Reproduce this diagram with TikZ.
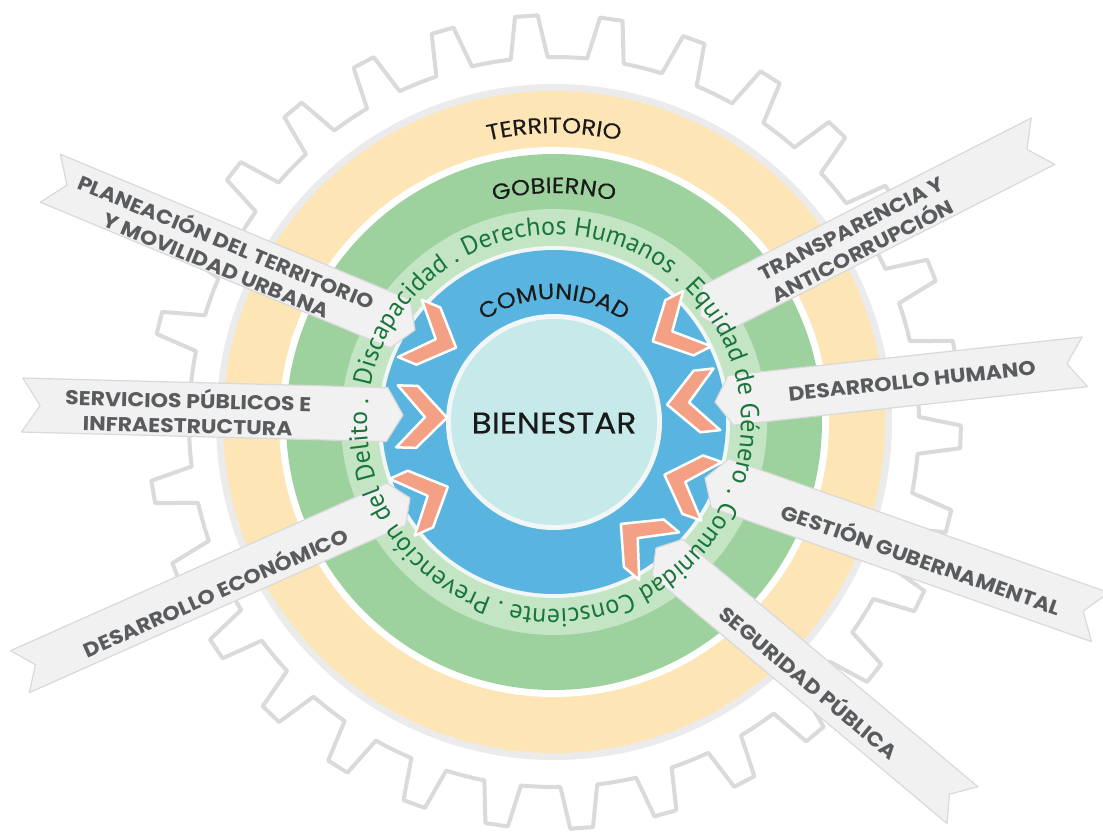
\documentclass[tikz,border=0pt]{standalone}
\usepackage{fontspec}
\setmainfont{Poppins}
\newfontfamily\ringfont{PT Sans}
\newfontfamily\labfont{Poppins}[FakeStretch=1.1, FakeBold=0.3]
\newfontfamily\banfont{Poppins}[FakeStretch=1.1]
\usetikzlibrary{decorations.text}
\definecolor{yel}{HTML}{FDE5B5}
\definecolor{yelb}{HTML}{EBEBEB}
\definecolor{grn}{HTML}{9DD19D}
\definecolor{lgrn}{HTML}{C3E5C3}
\definecolor{blu}{HTML}{59B5DF}
\definecolor{cyn}{HTML}{C6E9E9}
\definecolor{wbord}{HTML}{F3F6F6}
\definecolor{chev}{HTML}{F4A084}
\definecolor{banf}{HTML}{F1F1F1}
\definecolor{banb}{HTML}{D9D9D9}
\definecolor{bant}{HTML}{595B5E}
\definecolor{ringt}{HTML}{18763B}
\definecolor{gearc}{HTML}{DADADA}
\definecolor{labt}{HTML}{1A1A1A}
\begin{document}
\begin{tikzpicture}[x=1pt,y=1pt,
  banner/.style={fill=banf, draw=banb, line width=1.2pt, line join=round},
  chevron/.style={fill=chev, draw=white, line width=2.5pt, line join=round},
  bantext/.style={text=bant, font=\banfont\bfseries\fontsize{20}{25}\selectfont, align=center, inner sep=0pt},
  gearline/.style={draw=gearc, line width=4pt, line join=round, fill=white},
  arclabel/.style={decorate, decoration={text along path, text align=center, text color=labt}}
]
\useasboundingbox (-554,-409) rectangle (549,422);

% gear
\draw[gearline] (7:365pt) \foreach \k in {0,...,29}{ -- ({9.9+12*\k-1.6}:407pt) -- ({9.9+12*\k+1.6}:407pt) -- ({9.9+12*\k+2.9}:365pt) arc[start angle={9.9+12*\k+2.9}, end angle={9.9+12*\k+9.1}, radius=365pt] } -- cycle;

% rings
\fill[yelb] (0,0) circle[radius=338pt];
\fill[yel] (0,0) circle[radius=331pt];
\fill[white] (0,0) circle[radius=275pt];
\fill[grn] (0,0) circle[radius=268pt];
\fill[lgrn] (0,0) circle[radius=213pt];
\fill[wbord] (0,0) circle[radius=176pt];
\fill[blu] (0,0) circle[radius=172pt];
\fill[wbord] (0,0) circle[radius=108pt];
\fill[cyn] (0,0) circle[radius=103pt];

% ring labels
\path[arclabel, decoration={text={|\labfont\fontsize{22}{24}\selectfont|TERRITORIO}}] (135:289pt) arc[start angle=135, end angle=45, radius=289pt];
\path[arclabel, decoration={text={|\labfont\fontsize{22}{24}\selectfont|GOBIERNO}}] (135:229pt) arc[start angle=135, end angle=45, radius=229pt];
\path[arclabel, decoration={text={|\labfont\fontsize{22}{24}\selectfont|COMUNIDAD}}] (150:123pt) arc[start angle=150, end angle=30, radius=123pt];

% banners
\begin{scope}[shift={(-139,92)}, rotate=157.4]
\draw[banner] (0,0) -- (16,26) -- (395,26) -- (377,0) -- (395,-26) -- (16,-26) -- cycle;
\end{scope}
\begin{scope}[shift={(-151,7)}, rotate=178.5]
\draw[banner] (0,0) -- (16,27) -- (381,27) -- (363,0) -- (381,-27) -- (16,-27) -- cycle;
\end{scope}
\begin{scope}[shift={(-144,-76)}, rotate=204]
\draw[banner] (0,0) -- (15,23) -- (427,23) -- (410,0) -- (427,-23) -- (15,-23) -- cycle;
\end{scope}
\begin{scope}[shift={(146,106)}, rotate=27]
\draw[banner] (0,0) -- (16,26) -- (385,26) -- (367,0) -- (385,-26) -- (16,-26) -- cycle;
\end{scope}
\begin{scope}[shift={(161,20)}, rotate=6.2]
\draw[banner] (0,0) -- (16,25) -- (372,25) -- (354,0) -- (372,-25) -- (16,-25) -- cycle;
\end{scope}
\begin{scope}[shift={(151,-56)}, rotate=-19.4]
\draw[banner] (0,0) -- (16,26) -- (419,26) -- (401,0) -- (419,-26) -- (16,-26) -- cycle;
\end{scope}
\begin{scope}[shift={(102,-126)}, rotate=-40]
\draw[banner] (0,0) -- (15,24) -- (400,24) -- (383,0) -- (400,-24) -- (15,-24) -- cycle;
\end{scope}

% chevrons
\foreach \cx/\cy/\ca in {-121/84/-22.6, -132/5/-1.5, -129/-75/24, 121/92/207, 138/20/186.2, 134/-61/160.6, 86/-118/140}{
  \begin{scope}[shift={(\cx,\cy)}, rotate=\ca]
  \draw[chevron] (-25,31) -- (-5,31) -- (25,0) -- (-5,-31) -- (-25,-31) -- (3,0) -- cycle;
  \end{scope}
}

% ring text
\path[decorate, decoration={text along path, text align={fit to path}, text color=ringt,
  text={|\ringfont\fontsize{26}{30}\selectfont|Discapacidad . Derechos Humanos . Equidad de Género . Comunidad Consciente . Prevención del Delito .}}]
  (169:187pt) arc[start angle=169, end angle=-187, radius=187pt];

% banner texts
\node[bantext, rotate=-22.6] (t1) at (-332,170) {PLANEACIÓN DEL TERRITORIO\\Y MOVILIDAD URBANA};
\node[bantext, rotate=-1.5] (t2) at (-366,11) {SERVICIOS PÚBLICOS E\\INFRAESTRUCTURA};
\node[bantext, rotate=24] (t3) at (-339,-169) {DESARROLLO ECONÓMICO};
\node[bantext, rotate=27] (t4) at (303,182) {TRANSPARENCIA Y\\ANTICORRUPCIÓN};
\node[bantext, rotate=6.2] (t5) at (358,41) {DESARROLLO HUMANO};
\node[bantext, rotate=-19.4] (t6) at (368,-136) {GESTIÓN GUBERNAMENTAL};
\node[bantext, rotate=-40] (t7) at (256,-259) {SEGURIDAD PÚBLICA};

% center
\node[text=labt, font=\labfont\fontsize{30}{34}\selectfont, inner sep=0pt] (bien) at (0,-1) {BIENESTAR};
\end{tikzpicture}
\end{document}
